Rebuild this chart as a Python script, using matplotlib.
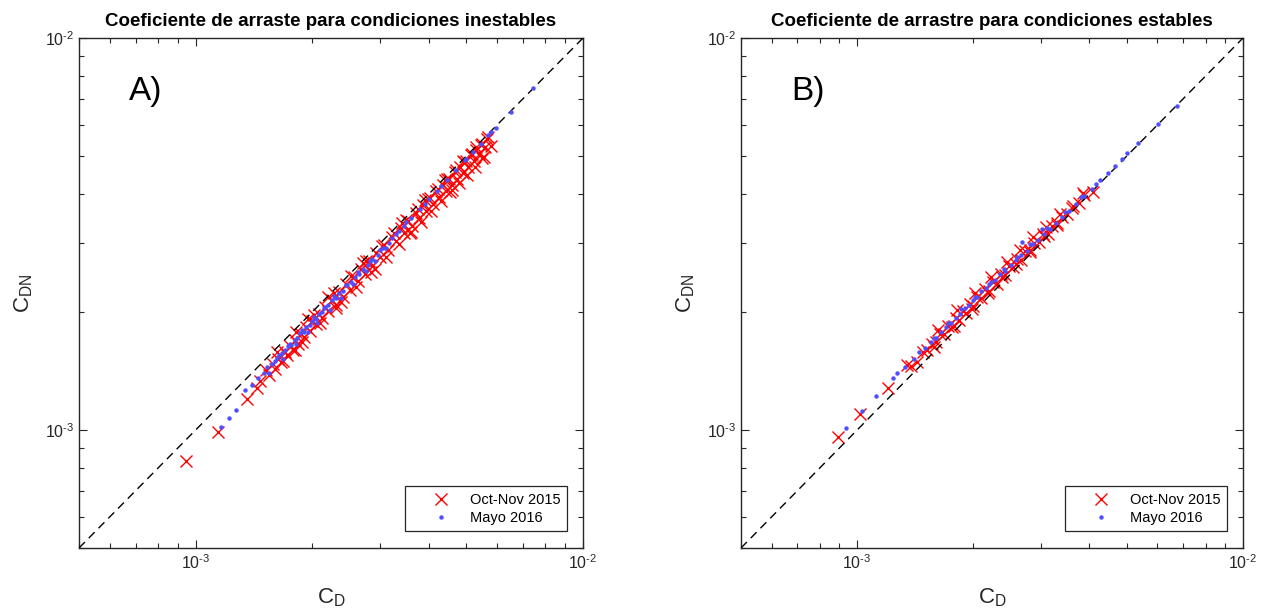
import matplotlib
matplotlib.use('Agg')
import matplotlib.pyplot as plt
import matplotlib.ticker as mticker
import numpy as np

# Liberation Sans is metric-compatible with Helvetica/Arial (MATLAB look)
matplotlib.rcParams['font.family'] = 'Liberation Sans'
matplotlib.rcParams['mathtext.fontset'] = 'custom'
matplotlib.rcParams['mathtext.rm'] = 'Liberation Sans'
matplotlib.rcParams['mathtext.it'] = 'Liberation Sans'

# ---- data (values in units of 1e-3) ----
# Panel A: unstable conditions
cd_a_oct = [0.945, 1.143, 1.359, 1.442, 1.47, 1.52, 1.55, 1.58, 1.60, 1.63, 1.66, 1.70, 1.72, 1.75,
            1.78, 1.80, 1.84, 1.87, 1.90, 1.93, 1.97, 2.00, 2.04, 2.08, 2.12, 2.16, 2.20, 2.25,
            2.30, 2.35, 2.40, 2.45, 2.50, 2.56, 2.62, 2.68, 2.74, 2.80, 2.86, 2.93, 3.00, 3.07,
            3.14, 3.22, 3.30, 3.38, 3.46, 3.54, 3.62, 3.70, 3.78, 3.86, 3.94, 4.02, 4.10, 4.18,
            4.26, 4.34, 4.42, 4.50, 4.58, 4.66, 4.74, 4.82, 4.90, 4.98, 5.06, 5.14, 5.22, 5.30,
            5.40, 5.50, 5.60, 5.70, 2.20, 3.40, 4.40, 5.30, 1.95, 2.70, 3.90, 4.90, 2.90, 3.60,
            4.60, 5.50, 2.30, 1.80,
            1.62, 1.68, 1.82, 1.88, 2.02, 2.10, 2.28, 2.38, 2.52, 2.60, 2.76, 2.84, 3.02, 3.10,
            3.26, 3.34, 3.50, 3.58, 3.74, 3.82, 3.98, 4.06, 4.22, 4.30, 4.46, 4.54, 4.70, 4.78,
            4.94, 5.02, 5.18, 5.26, 5.44, 5.56, 5.65, 5.78]
cdn_a_oct = [0.834, 0.988, 1.200, 1.280, 1.33, 1.42, 1.38, 1.47, 1.43, 1.52, 1.49, 1.58, 1.55, 1.64,
             1.60, 1.70, 1.66, 1.76, 1.73, 1.83, 1.79, 1.90, 1.86, 1.98, 1.93, 2.06, 2.01, 2.15,
             2.09, 2.25, 2.18, 2.36, 2.28, 2.46, 2.40, 2.58, 2.50, 2.70, 2.62, 2.83, 2.76, 2.97,
             2.88, 3.10, 3.03, 3.27, 3.18, 3.42, 3.32, 3.58, 3.47, 3.74, 3.62, 3.90, 3.77, 4.07,
             3.93, 4.22, 4.07, 4.38, 4.22, 4.54, 4.37, 4.70, 4.53, 4.86, 4.69, 5.02, 4.85, 5.18,
             5.05, 5.38, 5.28, 5.58, 2.18, 3.38, 4.35, 5.28, 1.92, 2.66, 3.85, 4.86, 2.58, 3.20,
             4.10, 4.95, 2.05, 1.60,
             1.58, 1.50, 1.78, 1.68, 1.97, 1.87, 2.23, 2.12, 2.47, 2.32, 2.70, 2.53, 2.95, 2.76,
             3.19, 2.98, 3.43, 3.19, 3.66, 3.40, 3.89, 3.62, 4.13, 3.84, 4.36, 4.05, 4.60, 4.26,
             4.84, 4.48, 5.07, 4.70, 5.32, 4.98, 5.52, 5.30]

cd_a_may = [1.164, 1.220, 1.272, 1.342, 1.40, 1.45, 1.50, 1.53, 1.57, 1.60, 1.64, 1.67, 1.70, 1.73,
            1.76, 1.80, 1.83, 1.86, 1.90, 1.93, 1.97, 2.00, 2.04, 2.08, 2.12, 2.16, 2.20, 2.25,
            2.30, 2.35, 2.40, 2.46, 2.52, 2.58, 2.64, 2.70, 2.78, 2.86, 2.95, 3.05, 3.15, 3.30,
            3.45, 3.60, 3.80, 4.00, 4.20, 4.45, 4.70, 4.95, 5.20, 5.45, 5.70, 5.95, 6.50, 7.45,
            1.55, 1.62, 1.68, 1.75, 1.82, 1.88, 1.95, 2.02, 2.06, 2.14, 2.22, 2.28, 2.38, 2.44,
            2.55, 2.62, 2.75, 2.82, 2.90, 3.00, 3.10, 3.22, 3.35, 3.50, 3.90, 4.30, 5.00, 5.80]
cdn_a_may = [1.018, 1.073, 1.125, 1.265, 1.30, 1.36, 1.40, 1.45, 1.47, 1.50, 1.55, 1.57, 1.60, 1.64,
             1.65, 1.70, 1.72, 1.77, 1.78, 1.83, 1.85, 1.90, 1.92, 1.98, 2.00, 2.06, 2.08, 2.14,
             2.17, 2.24, 2.26, 2.34, 2.38, 2.46, 2.50, 2.58, 2.64, 2.73, 2.80, 2.92, 3.00, 3.16,
             3.32, 3.47, 3.67, 3.88, 4.08, 4.35, 4.60, 4.87, 5.12, 5.38, 5.64, 5.90, 6.46, 7.45,
             1.40, 1.53, 1.52, 1.66, 1.66, 1.80, 1.78, 1.94, 1.88, 2.05, 2.02, 2.20, 2.17, 2.35,
             2.36, 2.53, 2.55, 2.70, 2.70, 2.88, 2.92, 3.08, 3.22, 3.40, 3.78, 4.20, 4.92, 5.75]

# Panel B: stable conditions
cd_b_oct = [0.893, 1.018, 1.203, 1.347, 1.430, 1.38, 1.48, 1.52, 1.56, 1.60, 1.64, 1.68, 1.72, 1.76,
            1.80, 1.84, 1.88, 1.92, 1.96, 2.00, 2.05, 2.10, 2.15, 2.20, 2.25, 2.30, 2.36, 2.42,
            2.48, 2.54, 2.60, 2.66, 2.73, 2.80, 2.88, 2.96, 3.04, 3.12, 3.20, 3.30, 3.40, 3.50,
            3.62, 3.75, 3.88, 4.09,
            1.58, 1.62, 1.78, 1.82, 1.98, 2.02, 2.18, 2.22, 2.38, 2.44, 2.58, 2.64, 2.80, 2.86,
            3.05, 3.08, 3.30, 3.35, 3.60, 3.85]
cdn_b_oct = [0.960, 1.099, 1.280, 1.465, 1.491, 1.46, 1.58, 1.60, 1.66, 1.68, 1.76, 1.76, 1.84, 1.83,
             1.93, 1.91, 2.01, 1.99, 2.10, 2.07, 2.19, 2.17, 2.29, 2.26, 2.39, 2.36, 2.50, 2.48,
             2.62, 2.60, 2.73, 2.71, 2.86, 2.85, 3.00, 3.01, 3.16, 3.17, 3.32, 3.34, 3.50, 3.55,
             3.72, 3.80, 3.97, 4.05,
             1.63, 1.80, 1.84, 2.02, 2.04, 2.24, 2.24, 2.46, 2.45, 2.68, 2.65, 2.88, 2.88, 3.10,
             3.12, 3.30, 3.38, 3.55, 3.68, 4.03]

cd_b_may = [0.936, 1.030, 1.120, 1.240, 1.270, 1.33, 1.40, 1.45, 1.50, 1.55, 1.60, 1.65, 1.70, 1.75,
            1.80, 1.85, 1.90, 1.95, 2.00, 2.05, 2.10, 2.16, 2.22, 2.28, 2.35, 2.42, 2.50, 2.58,
            2.66, 2.75, 2.85, 2.95, 3.05, 3.16, 3.28, 3.40, 3.55, 3.70, 3.88, 4.06, 4.26, 4.46,
            4.66, 4.85, 5.00, 5.34, 6.02, 6.75, 2.68, 3.01,
            1.58, 1.72, 1.86, 2.02, 2.20, 2.40, 2.60, 2.80, 3.10, 3.45, 3.80, 4.15]
cdn_b_may = [1.012, 1.118, 1.221, 1.357, 1.398, 1.45, 1.52, 1.58, 1.62, 1.68, 1.72, 1.78, 1.83, 1.88,
             1.93, 1.98, 2.05, 2.08, 2.15, 2.19, 2.26, 2.30, 2.38, 2.42, 2.50, 2.55, 2.64, 2.71,
             2.80, 2.87, 2.98, 3.06, 3.17, 3.26, 3.38, 3.49, 3.63, 3.78, 3.95, 4.13, 4.34, 4.53,
             4.72, 4.92, 5.10, 5.40, 6.04, 6.71, 3.02, 3.26,
             1.72, 1.88, 2.03, 2.18, 2.36, 2.57, 2.76, 2.98, 3.27, 3.60, 3.93, 4.25]

titles = ['Coeficiente de arraste para condiciones inestables',
          'Coeficiente de arrastre para condiciones estables']
panel_tags = ['A)', 'B)']
series_labels = ['Oct-Nov 2015', 'Mayo 2016']
lims = [5e-4, 1e-2]

red = '#ff0000'
blue = '#4f4fff'
axcol = '#262626'


def log_label(v, pos):
    e = int(round(np.log10(v)))
    return r'$\mathregular{10^{\text{-}%d}}$' % abs(e)


fig = plt.figure(figsize=(12.64, 6.13), dpi=100)
ax_a = fig.add_axes([79 / 1264, 65 / 613, 504 / 1264, 510 / 613])
ax_b = fig.add_axes([741 / 1264, 65 / 613, 502 / 1264, 510 / 613])

panels = [(ax_a, cd_a_oct, cdn_a_oct, cd_a_may, cdn_a_may),
          (ax_b, cd_b_oct, cdn_b_oct, cd_b_may, cdn_b_may)]

for i, (ax, cdo, cdno, cdm, cdnm) in enumerate(panels):
    ax.plot(np.array(cdo) * 1e-3, np.array(cdno) * 1e-3, 'x', color=red,
            markersize=8, markeredgewidth=1.0, label=series_labels[0], zorder=2)
    ax.plot(lims, lims, '--', color='black', linewidth=1.0, dashes=(6, 4), zorder=3)
    ax.plot(np.array(cdm) * 1e-3, np.array(cdnm) * 1e-3, 'o', color=blue,
            markersize=3.2, markeredgewidth=0, label=series_labels[1], zorder=4)

    ax.set_xscale('log')
    ax.set_yscale('log')
    ax.set_xlim(lims)
    ax.set_ylim(lims)

    ax.xaxis.set_major_locator(mticker.FixedLocator([1e-3, 1e-2]))
    ax.yaxis.set_major_locator(mticker.FixedLocator([1e-3, 1e-2]))
    ax.xaxis.set_major_formatter(mticker.FuncFormatter(log_label))
    ax.yaxis.set_major_formatter(mticker.FuncFormatter(log_label))
    ax.xaxis.set_minor_locator(mticker.LogLocator(base=10, subs=np.arange(2, 10)))
    ax.yaxis.set_minor_locator(mticker.LogLocator(base=10, subs=np.arange(2, 10)))
    ax.xaxis.set_minor_formatter(mticker.NullFormatter())
    ax.yaxis.set_minor_formatter(mticker.NullFormatter())

    ax.tick_params(which='both', direction='in', top=True, right=True,
                   colors=axcol, labelsize=11.5, width=0.8)
    ax.tick_params(which='major', length=6)
    ax.tick_params(which='minor', length=3.5)
    for s in ax.spines.values():
        s.set_color(axcol)
        s.set_linewidth(1.0)

    ax.set_title(titles[i], fontsize=13.5, fontweight='bold', pad=8.5)
    ax.set_xlabel(r'$\mathregular{C_D}$', fontsize=16, color=axcol, labelpad=11)
    ax.set_ylabel(r'$\mathregular{C_{DN}}$', fontsize=16, color=axcol, labelpad=7)
    ax.text(0.10, 0.895, panel_tags[i], transform=ax.transAxes, fontsize=24,
            ha='left', va='center', color='black')

    leg = ax.legend(loc='lower right', bbox_to_anchor=(0.968, 0.033), borderaxespad=0,
                    fontsize=10.5, fancybox=False, framealpha=1, edgecolor=axcol,
                    handlelength=4.0, handletextpad=0.0, borderpad=0.45, labelspacing=0.25)
    leg.get_frame().set_linewidth(0.9)

fig.savefig('out.png', dpi=100)
